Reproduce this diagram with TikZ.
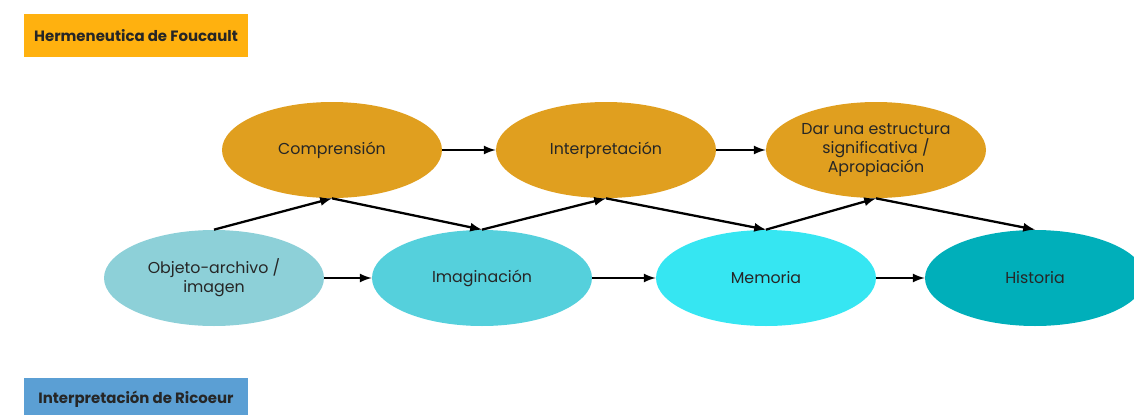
\documentclass[tikz,border=0pt]{standalone}
\usepackage{fontspec}
\setmainfont{Poppins}
\usetikzlibrary{shapes,arrows,positioning}
\usepackage{xcolor}
\definecolor{ocre}{HTML}{E09F1F}
\definecolor{ambar}{HTML}{FFB10F}
\definecolor{azul}{HTML}{5B9FD4}
\definecolor{celeste}{HTML}{8DD0D8}
\definecolor{turquesa}{HTML}{55D0DC}
\definecolor{cian}{HTML}{36E6F2}
\definecolor{petroleo}{HTML}{00AFBA}

\begin{document}
\begin{tikzpicture}[
    node distance=5.4cm,
    etapa/.style={ellipse, minimum width=4.4cm, minimum height=1.92cm, inner sep=0pt, align=center, text=black!85, font=\fontsize{9}{10.8}\selectfont},
    titulo/.style={rectangle, minimum width=4.48cm, minimum height=0.86cm, text=black!85, font=\bfseries\fontsize{8.5}{10}\selectfont},
    flecha/.style={-latex, line width=1.3pt}
]
\useasboundingbox (0,0) rectangle (22.68,-8.28);

% etiquetas
\node (foucault) [titulo, fill=ambar] at (2.72,-0.71) {Hermeneutica de Foucault};
\node (ricoeur) [titulo, fill=azul] at (2.72,-7.99) {Interpretación de Ricoeur};

% fila de arriba
\node (comprension) [etapa, fill=ocre] at (6.64,-3.0) {Comprensión};
\node (interpretacion) [etapa, fill=ocre, right of=comprension, xshift=0.08cm] {Interpretación};
\node (estructura) [etapa, fill=ocre, right of=interpretacion] {Dar una estructura\\significativa /\\Apropiación};

% fila de abajo
\node (objeto) [etapa, fill=celeste] at (4.28,-5.56) {Objeto-archivo /\\imagen};
\node (imaginacion) [etapa, fill=turquesa, right of=objeto, xshift=-0.04cm] {Imaginación};
\node (memoria) [etapa, fill=cian, right of=imaginacion, xshift=0.28cm] {Memoria};
\node (historia) [etapa, fill=petroleo, right of=memoria, xshift=-0.02cm] {Historia};

\draw [flecha] (comprension) -- (interpretacion);
\draw [flecha] (interpretacion) -- (estructura);
\draw [flecha] (objeto) -- (imaginacion);
\draw [flecha] (imaginacion) -- (memoria);
\draw [flecha] (memoria) -- (historia);

% zigzag
\draw [flecha] (objeto.north) -- (comprension.south);
\draw [flecha] (comprension.south) -- (imaginacion.north);
\draw [flecha] (imaginacion.north) -- (interpretacion.south);
\draw [flecha] (interpretacion.south) -- (memoria.north);
\draw [flecha] (memoria.north) -- (estructura.south);
\draw [flecha] (estructura.south) -- (historia.north);
\end{tikzpicture}
\end{document}
